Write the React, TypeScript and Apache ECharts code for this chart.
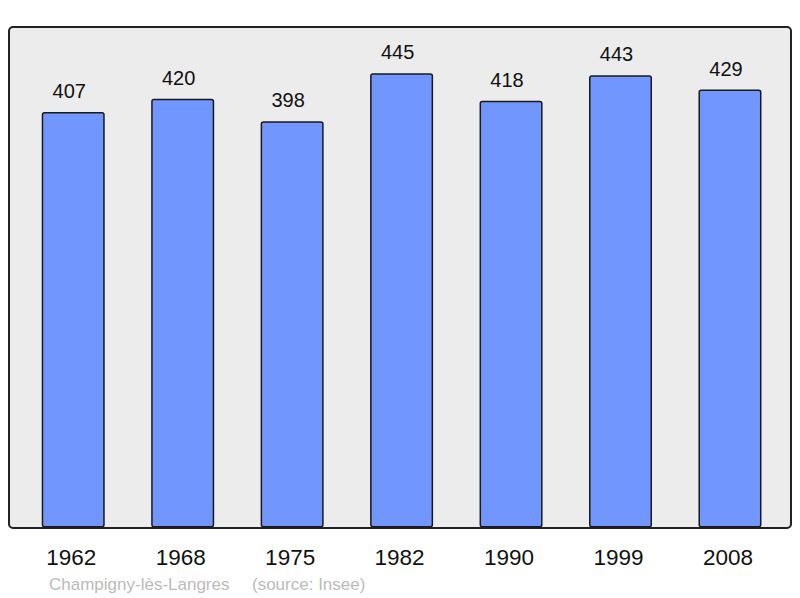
import React, { useEffect, useRef } from "react";
import * as echarts from "echarts";

const years = ["1962", "1968", "1975", "1982", "1990", "1999", "2008"];
const population = [407, 420, 398, 445, 418, 443, 429];
const placeName = "Champigny-lès-Langres";
const sourceText = "(source: Insee)";

export default function App() {
  const ref = useRef<HTMLDivElement>(null);
  useEffect(() => {
    if (!ref.current) return;
    const chart = echarts.init(ref.current, null, { renderer: "svg" });
    chart.setOption({
      animation: false,
      backgroundColor: "#ffffff",
      textStyle: { fontFamily: "Liberation Sans, Arial, sans-serif" },
      graphic: [
        {
          type: "rect",
          z: -10,
          shape: { x: 9, y: 27, width: 782, height: 501, r: 4 },
          style: { fill: "#ececec", stroke: "#222222", lineWidth: 2 },
        },
        {
          type: "text",
          left: 49,
          top: 576,
          style: {
            text: placeName,
            fill: "#bbbbbb",
            font: "17px 'Liberation Sans', Arial, sans-serif",
          },
        },
        {
          type: "text",
          left: 252,
          top: 576,
          style: {
            text: sourceText,
            fill: "#bbbbbb",
            font: "17px 'Liberation Sans', Arial, sans-serif",
          },
        },
      ],
      grid: { left: 18.5, right: 15.3, top: 27.3, bottom: 70.5, containLabel: false },
      xAxis: {
        type: "category",
        data: years,
        axisLine: { show: false },
        axisTick: { show: false },
        axisLabel: {
          color: "#111111",
          fontSize: 22.5,
          margin: 18,
          padding: [0, 4, 0, 0],
          fontFamily: "Liberation Sans, Arial, sans-serif",
        },
      },
      yAxis: {
        type: "value",
        min: 0,
        max: 490,
        show: false,
        splitLine: { show: false },
      },
      series: [
        {
          type: "bar",
          data: population,
          barWidth: 63,
          itemStyle: {
            color: "#7197ff",
            borderColor: "#1a1a1a",
            borderWidth: 1.5,
            borderRadius: 2,
          },
          label: {
            show: true,
            position: "top",
            distance: 11,
            offset: [-4, 0],
            color: "#111111",
            fontSize: 20,
            fontFamily: "Liberation Sans, Arial, sans-serif",
          },
        },
      ],
    });
    return () => chart.dispose();
  }, []);
  return <div ref={ref} style={{ width: 800, height: 598, position: "absolute", left: 0, top: 0 }} />;
}
